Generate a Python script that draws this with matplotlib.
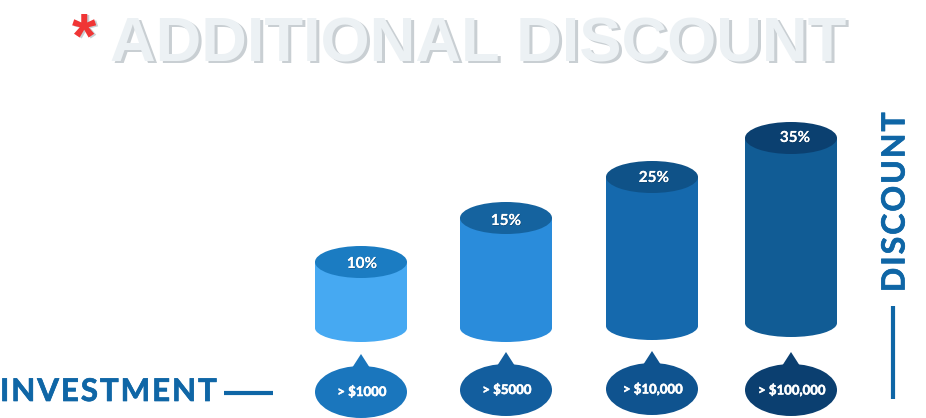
import matplotlib
matplotlib.use("Agg")
import matplotlib.pyplot as plt
from matplotlib.patches import Ellipse, Polygon, Rectangle
import matplotlib.patheffects as pe

discount_labels = ['10%', '15%', '25%', '35%']
invest_labels = ['> $1000', '> $5000', '> $10,000', '> $100,000']
# bar heights as drawn, the picture is not to scale with the percentages
bar_heights = [66, 110, 149, 185]
bar_bottoms = [328, 328, 326, 323]
bar_centers = [361, 506, 652, 791]
body_colors = ['#46a9f2', '#2a8cdb', '#1569ad', '#115c95']
top_colors = ['#1b7cc2', '#15639f', '#0f5288', '#0b4070']
bubble_colors = ['#1a76bd', '#135e9e', '#0f538f', '#0b3f70']
bubble_y = [392, 390, 389, 390]
# the percent labels are not quite centred on the bars
label_dx = [1, 0, 2, 4]
label_dy = [2, 3, 1, 0]

HALF_W = 46
TOP_RY = 16
BOTTOM_RY = 14
BLUE = '#0f66a6'
HAIR = '\u200a'

fig = plt.figure(figsize=(9.26, 4.18), dpi=100)
ax = fig.add_axes([0, 0, 1, 1])
ax.set_xlim(0, 926)
ax.set_ylim(418, 0)
ax.axis('off')

for i in range(4):
    x = bar_centers[i]
    bot = bar_bottoms[i]
    top = bot - bar_heights[i]
    ax.add_patch(Ellipse((x, bot), HALF_W*2, BOTTOM_RY*2, fc=body_colors[i], ec='none'))
    ax.add_patch(Rectangle((x-HALF_W, top), HALF_W*2, bar_heights[i], fc=body_colors[i], ec='none'))
    ax.add_patch(Ellipse((x, top), HALF_W*2, TOP_RY*2, fc=top_colors[i], ec='none'))
    ax.text(x+label_dx[i], top+label_dy[i], discount_labels[i], color='white', fontsize=11, fontweight='bold',
            family='Lato', ha='center', va='center',
            path_effects=[pe.withSimplePatchShadow(offset=(0.5, -0.5), shadow_rgbFace='#0a3050', alpha=0.5), pe.Normal()])

    # speech bubble under each bar
    y = bubble_y[i]
    ax.add_patch(Ellipse((x, y), 92, 52, fc=bubble_colors[i], ec='none'))
    ax.add_patch(Polygon([(x-9, y-24), (x, y-38), (x+9, y-24)], fc=bubble_colors[i], ec='none'))
    ax.text(x+1, y, invest_labels[i], color='white', fontsize=9.5, fontweight='bold',
            family='Lato', ha='center', va='center',
            path_effects=[pe.withStroke(linewidth=0.4, foreground='white')])

# title, light text with a grey offset copy behind
ax.text(481, 47, 'ADDITIONAL DISCOUNT', color='#c9cfd3', fontsize=45.5, fontweight='bold',
        family='Liberation Sans', ha='center', va='center')
ax.text(478, 45, 'ADDITIONAL DISCOUNT', color='#ecf1f4', fontsize=45.5, fontweight='bold',
        family='Liberation Sans', ha='center', va='center')
ax.text(86, 41, '*', color='#c9cfd3', fontsize=45, fontweight='bold',
        family='Liberation Sans', ha='center', va='center')
ax.text(84, 40, '*', color='#f03535', fontsize=45, fontweight='bold',
        family='Liberation Sans', ha='center', va='center')

# axis captions, hair spaces give the wide tracking
ax.text(0, 392, HAIR.join('INVESTMENT'), color=BLUE, fontsize=22.5, fontweight='bold',
        family=['Lato', 'DejaVu Sans'], ha='left', va='center',
        path_effects=[pe.withStroke(linewidth=0.5, foreground=BLUE)])
ax.plot([224, 273], [393, 393], color=BLUE, lw=3, solid_capstyle='butt')
ax.text(895, 202, HAIR.join('DISCOUNT'), color=BLUE, fontsize=23, fontweight='bold',
        family=['Lato', 'DejaVu Sans'], rotation=90, ha='center', va='center',
        path_effects=[pe.withStroke(linewidth=0.5, foreground=BLUE)])
ax.plot([893, 893], [306, 399], color=BLUE, lw=3, solid_capstyle='butt')

fig.savefig('out.png', dpi=100, facecolor='white')
